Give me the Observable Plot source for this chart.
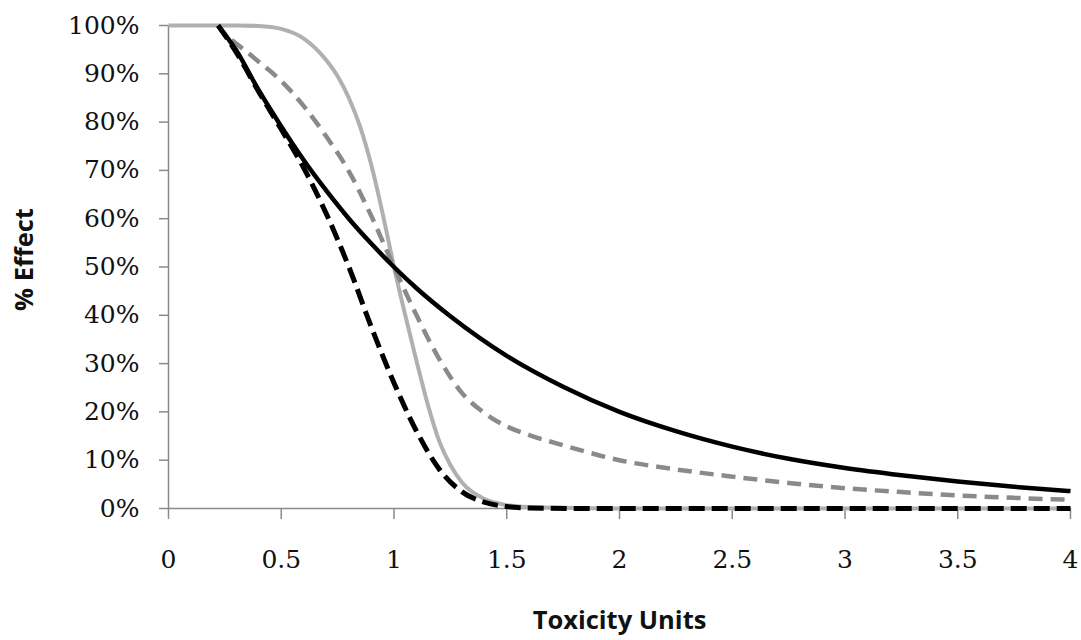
<!DOCTYPE html>
<html>
<head>
<meta charset="utf-8">
<script src="https://cdn.jsdelivr.net/npm/d3@7"></script>
<script src="https://cdn.jsdelivr.net/npm/@observablehq/plot@0.6"></script>
<style>
  html, body { margin: 0; padding: 0; background: #ffffff; }
  #chart svg { display: block; }
</style>
</head>
<body>
<div id="chart"></div>
<script>
// Tick values
const xTicks = [0, 0.5, 1, 1.5, 2, 2.5, 3, 3.5, 4];
const yTicks = [0, 10, 20, 30, 40, 50, 60, 70, 80, 90, 100];

// Light grey solid curve (steepest sigmoid)
const lightSolidX = [0, 0.3, 0.4, 0.5, 0.6, 0.7, 0.75, 0.8, 0.85, 0.9, 0.95, 1.0, 1.05, 1.1, 1.15, 1.2, 1.25, 1.3, 1.4, 1.5, 1.6, 1.8, 2, 2.5, 3, 3.5, 4];
const lightSolidY = [100, 100, 99.9, 99.3, 97.3, 92.8, 89.5, 85, 79, 71, 61, 50, 40, 30.5, 21.5, 14, 9, 5.5, 2, 0.7, 0.3, 0.1, 0, 0, 0, 0, 0];

// Grey dashed curve
const greyDashX = [0.28, 0.4, 0.5, 0.6, 0.7, 0.8, 0.9, 1.0, 1.1, 1.2, 1.3, 1.4, 1.5, 1.6, 1.75, 2, 2.25, 2.5, 2.75, 3, 3.25, 3.5, 3.75, 4];
const greyDashY = [97, 92.5, 88.5, 83.3, 77, 69.8, 60.5, 50, 40, 31, 24, 19.8, 17, 15.2, 13.1, 10, 8.1, 6.6, 5.3, 4.2, 3.4, 2.7, 2.2, 1.8];

// Black solid curve
const blackSolidX = [0.22, 0.3, 0.4, 0.5, 0.6, 0.7, 0.8, 0.9, 1.0, 1.1, 1.25, 1.5, 1.75, 2.0, 2.25, 2.5, 2.75, 3.0, 3.25, 3.5, 3.75, 4.0];
const blackSolidY = [100, 94.9, 86.6, 79.1, 72.1, 65.8, 60, 54.8, 50, 45.6, 39.8, 31.6, 25.2, 20, 16, 12.8, 10.3, 8.4, 6.9, 5.6, 4.5, 3.6];

// Black dashed curve
const blackDashX = [0.22, 0.3, 0.4, 0.5, 0.6, 0.7, 0.8, 0.9, 1.0, 1.1, 1.2, 1.3, 1.4, 1.5, 1.6, 1.8, 2, 2.5, 3, 3.5, 4];
const blackDashY = [100, 94.5, 86.3, 78.5, 70.5, 61, 50, 37.5, 26, 16, 8.2, 3.5, 1.3, 0.4, 0.1, 0, 0, 0, 0, 0, 0];

const seriesDefs = [
  {xs: lightSolidX, ys: lightSolidY, stroke: "#b0b0b0", width: 4, dash: null},
  {xs: greyDashX, ys: greyDashY, stroke: "#8a8a8a", width: 4.5, dash: "14,8"},
  {xs: blackSolidX, ys: blackSolidY, stroke: "#000000", width: 4.5, dash: null},
  {xs: blackDashX, ys: blackDashY, stroke: "#000000", width: 5, dash: "16,7"}
];

const rows = (xs, ys) => xs.map((x, i) => ({x, y: ys[i]}));

const axisColor = "#8a8a8a";
const tickFont = "DejaVu Serif";
const titleFont = "Open Sans";

const marks = [];
marks.push(Plot.ruleX([0], {stroke: axisColor, strokeWidth: 1.5}));
marks.push(Plot.ruleY([0], {stroke: axisColor, strokeWidth: 1.5}));
marks.push(Plot.axisY(yTicks, {
  tickSize: 9, tickPadding: 20, stroke: axisColor, strokeWidth: 1.5,
  tickFormat: d => d + "%", fill: "#111111", fontSize: 25, fontFamily: tickFont, label: null
}));
marks.push(Plot.axisX(xTicks, {
  tickSize: 11, tickPadding: 31, stroke: axisColor, strokeWidth: 1.5,
  tickFormat: d => String(d), fill: "#111111", fontSize: 25, fontFamily: tickFont, label: null
}));
for (const s of seriesDefs) {
  marks.push(Plot.line(rows(s.xs, s.ys), {
    x: "x", y: "y", stroke: s.stroke, strokeWidth: s.width,
    strokeDasharray: s.dash, strokeLinecap: "butt", strokeLinejoin: "round",
    curve: "monotone-x"
  }));
}
marks.push(Plot.text(["% Effect"], {
  frameAnchor: "left", dx: -144, dy: -7.5, rotate: -90,
  fontFamily: titleFont, fontWeight: "bold", fontSize: 25.5, fill: "#111",
  textAnchor: "middle", lineAnchor: "middle"
}));
marks.push(Plot.text(["Toxicity Units"], {
  frameAnchor: "bottom", dy: 112,
  fontFamily: titleFont, fontWeight: "bold", fontSize: 25.5, fill: "#111",
  textAnchor: "middle", lineAnchor: "middle"
}));

const chart = Plot.plot({
  width: 1081,
  height: 640,
  marginLeft: 168,
  marginRight: 11,
  marginTop: 25,
  marginBottom: 132,
  x: {domain: [0, 4]},
  y: {domain: [0, 100]},
  style: {background: "#ffffff", fontFamily: tickFont, overflow: "visible"},
  marks
});
document.getElementById("chart").appendChild(chart);
</script>
</body>
</html>
